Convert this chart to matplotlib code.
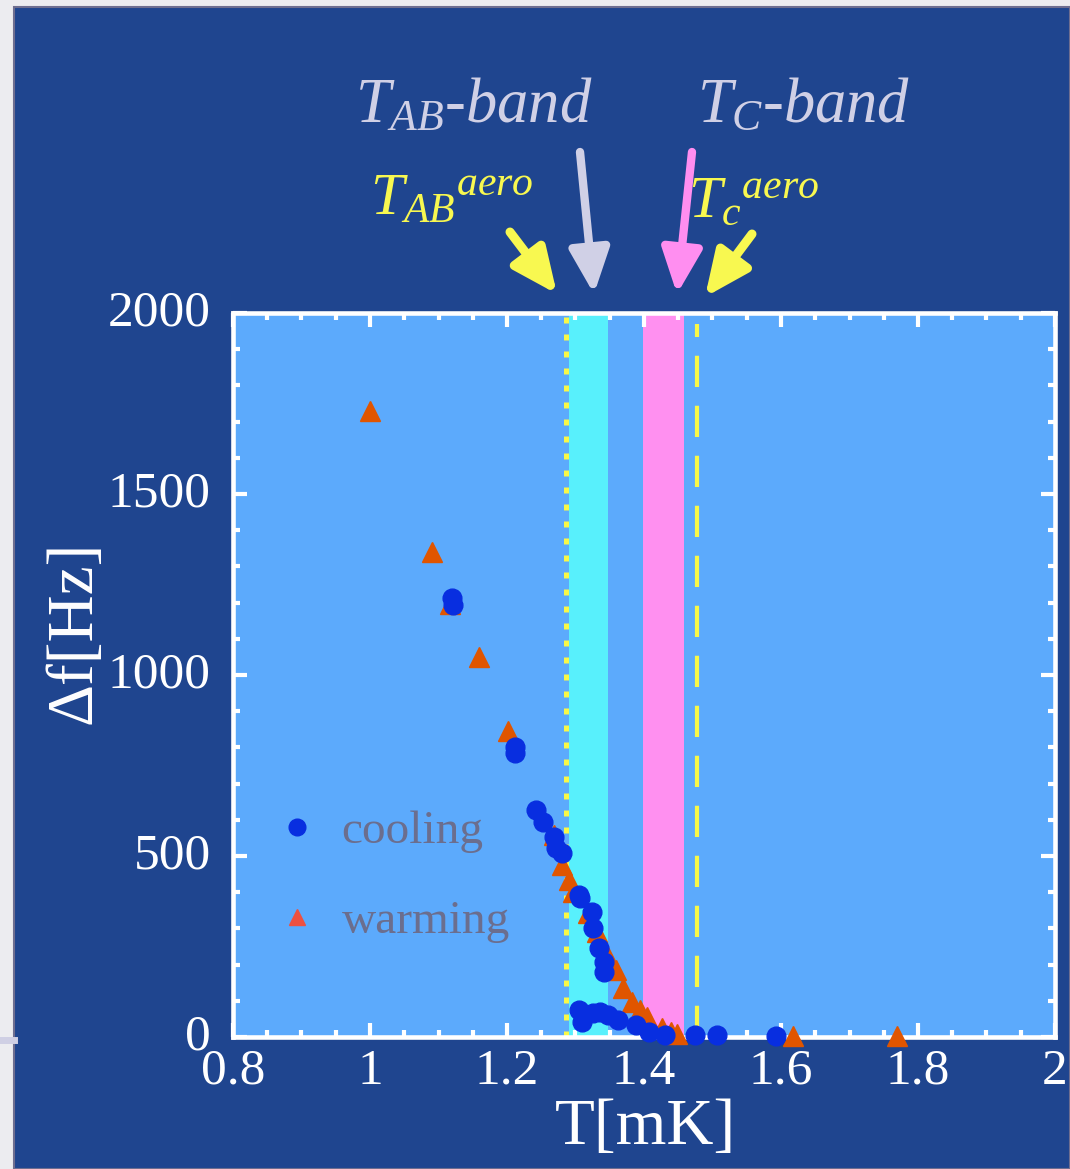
import matplotlib
matplotlib.use("Agg")
import matplotlib.pyplot as plt
from matplotlib.lines import Line2D
from matplotlib.patches import Rectangle
from matplotlib.transforms import ScaledTranslation

# ---------------- data ----------------
cool_T = [1.119, 1.121, 1.211, 1.211, 1.242, 1.252, 1.268, 1.272, 1.280, 1.305,
          1.307, 1.324, 1.325, 1.335, 1.341, 1.342, 1.305, 1.309, 1.325, 1.336,
          1.347, 1.362, 1.388, 1.408, 1.430, 1.474, 1.507, 1.592]
cool_df = [1213, 1193, 801, 785, 627, 594, 552, 522, 508, 392,
           384, 345, 301, 246, 207, 180, 75, 41, 66, 69,
           61, 47, 33, 14, 6, 6, 6, 3]

warm_T = [1.000, 1.091, 1.117, 1.159, 1.201, 1.268, 1.281, 1.291, 1.296, 1.318,
          1.331, 1.345, 1.359, 1.369, 1.382, 1.394, 1.405, 1.426, 1.440, 1.448,
          1.617, 1.769]
warm_df = [1729, 1340, 1195, 1050, 845, 558, 475, 434, 400, 343,
           290, 232, 185, 135, 97, 75, 55, 25, 14, 8,
           3, 3]

tab_band = (1.290, 1.347)
tc_band = (1.399, 1.459)
tab_aero = 1.286
tc_aero = 1.477

xticks = [0.8, 1.0, 1.2, 1.4, 1.6, 1.8, 2.0]
xticklabels = ["0.8", "1", "1.2", "1.4", "1.6", "1.8", "2"]
yticks = [0, 500, 1000, 1500, 2000]
yticklabels = ["0", "500", "1000", "1500", "2000"]

# ---------------- style ----------------
plt.rcParams['font.family'] = ['Liberation Serif', 'DejaVu Serif']
plt.rcParams['mathtext.fontset'] = 'custom'
plt.rcParams['mathtext.rm'] = 'Liberation Serif'
plt.rcParams['mathtext.it'] = 'Liberation Serif:italic'
plt.rcParams['mathtext.bf'] = 'Liberation Serif:bold'

W, H = 1070, 1169
fig = plt.figure(figsize=(W / 100, H / 100), dpi=100, facecolor='#ececf0')

# dark slide panel
fig.add_artist(Rectangle((14 / W, 0), 1 - 14 / W, 1 - 7 / H, transform=fig.transFigure,
                         facecolor='#1f458f', edgecolor='#6e6e90', lw=1.5, zorder=0))
fig.add_artist(Line2D([0, 14 / W], [1 - 1040 / H, 1 - 1040 / H], transform=fig.transFigure,
                      color='#cfcfe4', lw=5, zorder=0))

ax = fig.add_axes([233 / W, 1 - 1037 / H, (1055 - 233) / W, (1037 - 313) / H])
ax.set_facecolor('#5caafc')
ax.set_xlim(0.8, 2.0)
ax.set_ylim(0, 2000)

ax.axvspan(*tab_band, color='#58f0fc', lw=0, zorder=1)
ax.axvspan(*tc_band, color='#ff90f0', lw=0, zorder=1)
ax.axvline(tab_aero, color='#f8f848', lw=3.6, ls=(0, (1.2, 2.2)), zorder=2)
ax.axvline(tc_aero, color='#f8f848', lw=3, ls=(0, (7.5, 4.5)), ymax=0.985, zorder=2)

ax.plot(warm_T, warm_df, ls='none', marker='^', ms=14, color='#e05500', mec='#e05500',
        zorder=6, clip_on=False)
ax.plot(cool_T, cool_df, ls='none', marker='o', ms=13.5, color='#082ee0', mec='#082ee0',
        zorder=7, clip_on=False)

for s in ax.spines.values():
    s.set_color('white')
    s.set_linewidth(3.3)
    s.set_zorder(5)

ax.set_xticks(xticks)
ax.set_xticklabels(xticklabels)
ax.set_yticks(yticks)
ax.set_yticklabels(yticklabels)
ax.set_xticks([0.8 + 0.05 * i for i in range(25)], minor=True)
ax.set_yticks(list(range(0, 2001, 100)), minor=True)
ax.tick_params(which='both', direction='in', top=True, right=True, color='white',
               labelcolor='white', labelsize=37)
ax.tick_params(which='major', length=10, width=3)
ax.tick_params(which='minor', length=5, width=3)
ax.tick_params(axis='y', pad=16)
ax.tick_params(axis='x', pad=8)
for lab in ax.get_yticklabels():
    lab.set_transform(lab.get_transform() + ScaledTranslation(0, 5 / 100, fig.dpi_scale_trans))

fig.text(645 / W, 1 - 1128 / H, "T[mK]", color='white', fontsize=47, ha='center', va='center')
fig.text(75 / W, 1 - 632 / H, "\u0394f[Hz]", color='white', fontsize=47, rotation=90,
         ha='center', va='center')

leg_handles = [Line2D([], [], ls='none', marker='o', ms=12, color='#082ee0'),
               Line2D([], [], ls='none', marker='^', ms=12, color='#ee5040')]
leg = ax.legend(leg_handles, ["cooling", "warming"], loc='upper left',
                bbox_to_anchor=(40 / 822, (1037 - 810) / 724), frameon=False,
                fontsize=34, labelcolor='#6b6e8e', handlelength=1.0,
                handletextpad=0.45, labelspacing=1.0, borderpad=0, borderaxespad=0)
leg.set_zorder(8)

# top annotations
lav = '#d0d0e6'
yel = '#f8f850'
pink = '#ff8ef0'
fig.text(355 / W, 1 - 122 / H, r"$T_{AB}$-band", color=lav, fontsize=45, style='italic',
         ha='left', va='baseline')
fig.text(697 / W, 1 - 122 / H, r"$T_{C}$-band", color=lav, fontsize=45, style='italic',
         ha='left', va='baseline')
fig.text(370 / W, 1 - 215 / H, r"$T_{AB}{}^{aero}$", color=yel, fontsize=43,
         ha='left', va='baseline')
fig.text(688 / W, 1 - 217 / H, r"$T_{c}{}^{aero}$", color=yel, fontsize=43,
         ha='left', va='baseline')

def arrow(tail, tip, color, lw):
    fig.add_artist(plt.Annotation('', xy=(tip[0], H - tip[1]), xytext=(tail[0], H - tail[1]),
                                  xycoords='figure pixels', textcoords='figure pixels',
                                  arrowprops=dict(arrowstyle='-|>,head_length=1.0,head_width=0.45',
                                                  mutation_scale=27, lw=lw, color=color,
                                                  shrinkA=0, shrinkB=0)))

arrow((510, 232), (557, 294), yel, 6.5)
arrow((580, 152), (594, 294), lav, 6)
arrow((692, 152), (677, 294), pink, 6)
arrow((752, 234), (705, 297), yel, 6.5)

fig.savefig("out.png", dpi=100, facecolor=fig.get_facecolor())
